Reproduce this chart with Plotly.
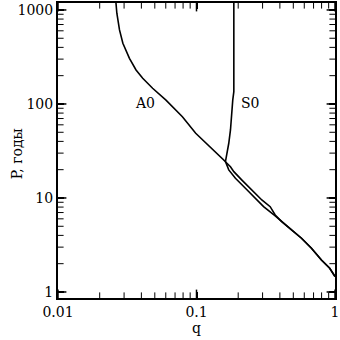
import math
import plotly.graph_objects as go

# A0 curve (q, P in years)
a0_q = [0.0262, 0.0266, 0.0278, 0.0294, 0.0328, 0.0366, 0.0409, 0.0482, 0.0602, 0.0791,
        0.0987, 0.162, 0.171, 0.191, 0.2255, 0.2655, 0.305, 0.370,
        0.412, 0.486, 0.573, 0.676, 0.798, 0.916, 1.0]
a0_p = [1200, 923, 613, 442, 306, 230, 188, 147, 110, 73,
        48.8, 24.3, 19.9, 16.2, 12.7, 9.93, 8.08, 6.45,
        5.60, 4.57, 3.73, 2.92, 2.19, 1.79, 1.46]

# S0 curve
s0_q = [0.186, 0.186, 0.186, 0.1827, 0.1806, 0.1759, 0.171, 0.1663, 0.1618,
        0.1759, 0.186, 0.2128, 0.2512, 0.2963, 0.3404, 0.370,
        0.412, 0.486, 0.573, 0.676, 0.798, 0.916, 1.0]
s0_p = [1200, 375, 135, 110, 79.6, 52.9, 38.2, 29.9, 24.3,
        21.5, 19.05, 15.5, 12.2, 9.52, 8.08, 6.6,
        5.60, 4.57, 3.73, 2.92, 2.19, 1.79, 1.46]

x_tickvals = [0.01, 0.1, 1]
x_ticktext = ["0.01", "0.1", "1"]
y_tickvals = [1, 10, 100, 1000]
y_ticktext = ["1", "10", "100", "1000"]
x_minor = [m * 10.0 ** e for e in (-2, -1) for m in range(2, 10)]
y_minor = [m * 10.0 ** e for e in (0, 1, 2) for m in range(2, 10)]

curve_labels = ["A0", "S0"]
label_q = [0.0428, 0.246]
label_p = [102, 102]

FONT = "DejaVu Serif"
X_RANGE = [-2, 0.0]
Y_RANGE = [-0.064, 3.074]

fig = go.Figure(layout=dict(template="none"))
fig.add_trace(go.Scatter(x=a0_q, y=a0_p, mode="lines",
                         line=dict(color="black", width=1.6), showlegend=False))
fig.add_trace(go.Scatter(x=s0_q, y=s0_p, mode="lines",
                         line=dict(color="black", width=1.6), showlegend=False))

# tick marks drawn as clipped line markers on the frame edges (half of each marker
# lies inside the plot area, giving inward-pointing ticks)
x_left, x_right = 10 ** X_RANGE[0], 10 ** X_RANGE[1]
y_bottom, y_top = 10 ** Y_RANGE[0], 10 ** Y_RANGE[1]
for vals, size, w in [(x_tickvals, 12, 1.5), (x_minor, 8, 1.0)]:
    for edge in (y_bottom, y_top):
        fig.add_trace(go.Scatter(x=vals, y=[edge] * len(vals), mode="markers",
                                 marker=dict(symbol="line-ns", size=size, color="black",
                                             line=dict(width=w, color="black")),
                                 cliponaxis=True, hoverinfo="skip", showlegend=False))
for vals, size, w in [(y_tickvals, 12, 1.5), (y_minor, 8, 1.0)]:
    for edge in (x_left, x_right):
        fig.add_trace(go.Scatter(x=[edge] * len(vals), y=vals, mode="markers",
                                 marker=dict(symbol="line-ew", size=size, color="black",
                                             line=dict(width=w, color="black")),
                                 cliponaxis=True, hoverinfo="skip", showlegend=False))

for t, qx, py in zip(curve_labels, label_q, label_p):
    fig.add_annotation(x=math.log10(qx), y=math.log10(py), xref="x", yref="y",
                       text=t, showarrow=False,
                       font=dict(family=FONT, size=14, color="black"),
                       xanchor="center", yanchor="middle")

axis_common = dict(type="log", showgrid=False, zeroline=False, showline=True,
                   linecolor="black", linewidth=2, mirror="allticks",
                   ticks="inside", ticklen=6, tickwidth=1.5, tickcolor="black",
                   automargin=False,
                   tickfont=dict(family=FONT, size=14, color="black"))

fig.update_xaxes(range=X_RANGE, tickvals=x_tickvals, ticktext=x_ticktext, **axis_common)
fig.update_yaxes(range=Y_RANGE, tickvals=y_tickvals, ticktext=y_ticktext, **axis_common)

fig.add_annotation(x=-0.145, y=0.49, xref="paper", yref="paper", text="P, годы",
                   textangle=-90, showarrow=False,
                   font=dict(family=FONT, size=14, color="black"),
                   xanchor="center", yanchor="middle")
fig.add_annotation(x=math.log10(0.1), y=-0.102, xref="x", yref="paper", text="q",
                   showarrow=False, font=dict(family=FONT, size=14, color="black"),
                   xanchor="center", yanchor="middle")

fig.update_layout(width=340, height=340, margin=dict(l=58, r=5, t=3, b=42),
                  plot_bgcolor="white", paper_bgcolor="white")

fig.write_html("out.html", config={"displayModeBar": False},
               post_script="document.body.style.margin='0';document.body.style.padding='0';")
